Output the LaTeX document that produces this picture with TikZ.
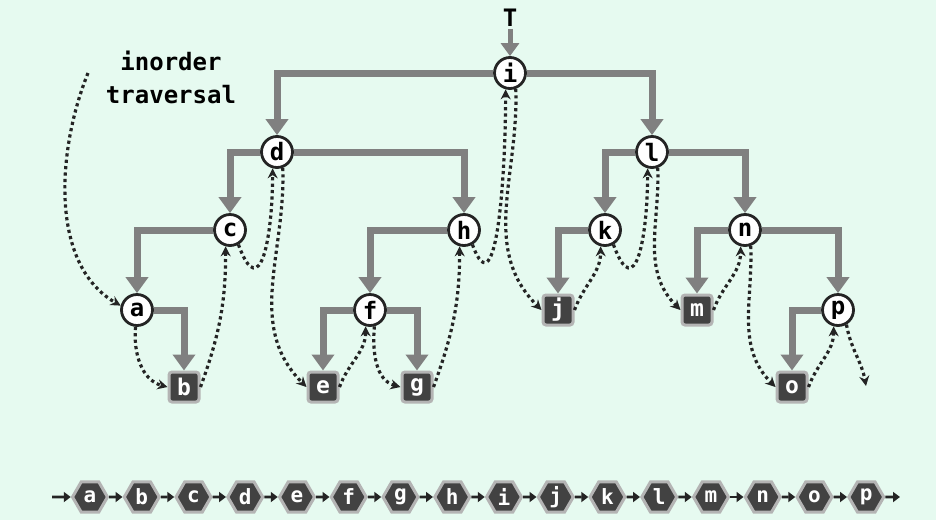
\documentclass[tikz,border=0pt]{standalone}
\usepackage{fontspec}
\setmonofont{DejaVu Sans Mono}
\usetikzlibrary{arrows.meta,shapes.geometric}
\definecolor{bg}{RGB}{230,250,240}
\definecolor{edgegray}{RGB}{128,128,128}
\definecolor{dark}{RGB}{36,36,36}
\definecolor{boxfill}{RGB}{66,66,66}
\definecolor{boxrim}{RGB}{180,180,180}
\begin{document}
\begin{tikzpicture}[x=1pt,y=1pt,
  inner/.style={circle, draw=dark, line width=2.8pt, fill=white, minimum size=31pt, inner sep=0pt,
    font=\ttfamily\bfseries\fontsize{24}{24}\selectfont},
  leaf/.style={rectangle, rounded corners=3pt, draw=boxrim, line width=3pt, fill=boxfill,
    minimum size=30pt, inner sep=0pt, text=white, font=\ttfamily\bfseries\fontsize{23}{23}\selectfont},
  tree/.style={draw=edgegray, line width=7pt, -{Triangle[length=16pt,width=22pt]}},
  trav/.style={draw=dark, line width=3.2pt, dash pattern=on 3.2pt off 3.2pt, -{Stealth[length=10pt,width=10pt]}},
  hexn/.style={regular polygon, regular polygon sides=6, minimum size=35pt, inner sep=0pt,
    draw=boxrim, line width=3pt, fill=boxfill, text=white, font=\ttfamily\bfseries\fontsize{21}{21}\selectfont},
  seq/.style={draw=dark, line width=2.6pt, -{Triangle[length=7pt,width=10pt]}},
  lbl/.style={font=\ttfamily\bfseries\fontsize{24}{33}\selectfont, align=center, inner sep=0pt}
]
\fill[bg] (0,0) rectangle (936,-520);
\useasboundingbox (0,0) rectangle (936,-520);

% nodes
\node[lbl, inner sep=2pt] (T) at (510,-18) {T};
\node[lbl] (label) at (171,-77) {inorder\\traversal};
\node[inner] (i) at (510,-73) {i};
\node[inner] (d) at (277,-152) {d};
\node[inner] (l) at (652,-152) {l};
\node[inner] (c) at (230,-230) {c};
\node[inner] (h) at (464,-230) {h};
\node[inner] (k) at (605,-230) {k};
\node[inner] (n) at (745,-230) {n};
\node[inner] (a) at (137,-310) {a};
\node[inner] (f) at (370,-310) {f};
\node[leaf] (j) at (558,-310) {j};
\node[leaf] (m) at (697,-310) {m};
\node[inner] (p) at (838,-310) {p};
\node[leaf] (b) at (184,-387) {b};
\node[leaf] (e) at (323,-387) {e};
\node[leaf] (g) at (417,-387) {g};
\node[leaf] (o) at (792,-387) {o};

% tree edges
\draw[draw=edgegray, line width=5pt, -{Triangle[length=13pt,width=18pt]}] (T) -- (i);
\draw[tree] (i) -| (d);
\draw[tree] (i) -| (l);
\draw[tree] (d) -| (c);
\draw[tree] (d) -| (h);
\draw[tree] (l) -| (k);
\draw[tree] (l) -| (n);
\draw[tree] (c) -| (a);
\draw[tree] (a) -| (b);
\draw[tree] (h) -| (f);
\draw[tree] (f) -| (e);
\draw[tree] (f) -| (g);
\draw[tree] (k) -| (j);
\draw[tree] (n) -| (m);
\draw[tree] (n) -| (p);
\draw[tree] (p) -| (o);

% inorder traversal
\coordinate (trs) at (88,-73);
\coordinate (trend) at (866,-386);
\draw[trav] (trs) to[out=-112,in=150,looseness=0.9] (a.165);
\draw[trav] (a.-95) to[out=-95,in=165] (b.west);
\draw[trav] (b.east) to[out=70,in=-90] (c.-105);
\draw[trav] (c.-60) to[out=-70,in=-90,looseness=2] (d.-105);
\draw[trav] (d.-70) to[out=-88,in=135] (e.west);
\draw[trav] (e.east) to[out=70,in=-90] (f.-105);
\draw[trav] (f.-75) to[out=-95,in=165] (g.west);
\draw[trav] (g.east) to[out=70,in=-90] (h.-105);
\draw[trav] (h.-60) to[out=-70,in=-90,looseness=1.2] (i.-105);
\draw[trav] (i.-70) to[out=-88,in=135] (j.west);
\draw[trav] (j.east) to[out=70,in=-90] (k.-105);
\draw[trav] (k.-60) to[out=-70,in=-90,looseness=2] (l.-105);
\draw[trav] (l.-70) to[out=-88,in=135] (m.west);
\draw[trav] (m.east) to[out=70,in=-90] (n.-105);
\draw[trav] (n.-70) to[out=-88,in=135] (o.west);
\draw[trav] (o.east) to[out=70,in=-90] (p.-105);
\draw[trav] (p.-60) to[out=-80,in=100] (trend);

% sequence
\coordinate (sstart) at (52,-497);
\coordinate (send) at (900,-497);
\foreach \ch [count=\k] in {a,b,c,d,e,f,g,h,i,j,k,l,m,n,o,p}
  \node[hexn] (hx\k) at ({90+(\k-1)*51.75},-497) {\ch};
\draw[seq] (sstart) -- (hx1);
\foreach \k [evaluate=\k as \nx using int(\k+1)] in {1,...,15}
  \draw[seq] (hx\k) -- (hx\nx);
\draw[seq] (hx16) -- (send);
\end{tikzpicture}
\end{document}
